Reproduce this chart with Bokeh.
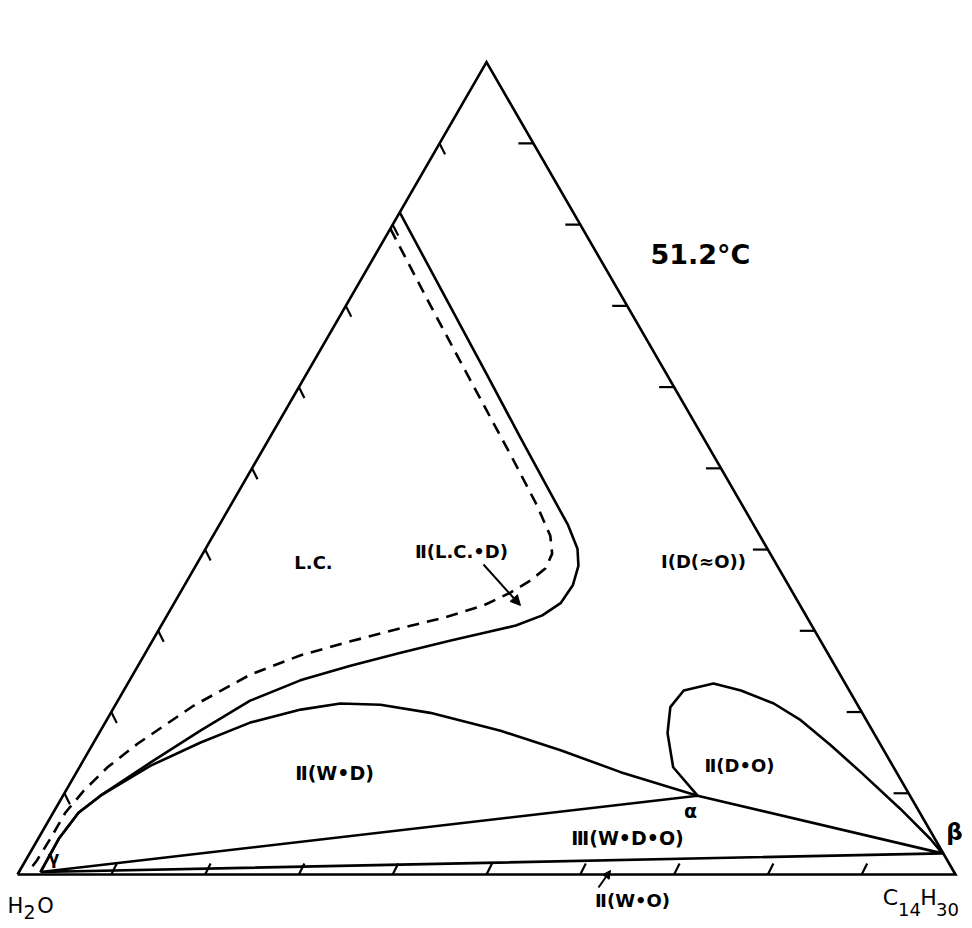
import math
from bokeh.plotting import figure
from bokeh.models import Range1d, Arrow, NormalHead, ColumnDataSource
from bokeh.core.properties import value
from bokeh.embed import file_html
from bokeh.resources import INLINE

# ---- data: compositions in wt% (surfactant S, oil O; water = 100 - S - O) ----
# outer solid boundary of the liquid-crystal two-phase region
lc_solid_S = [81.5, 61.2, 53.8, 47.0, 43.0, 40.1, 38.0, 35.6, 33.4, 31.9, 30.65, 29.8, 28.8, 27.3, 25.7, 23.9, 21.4, 17.7, 13.8, 9.7, 7.6, 4.4, 0.3]
lc_solid_O = [0.0, 19.6, 26.7, 33.3, 37.2, 39.65, 40.8, 41.4, 41.2, 40.0, 37.8, 35.0, 31.8, 27.2, 22.65, 18.2, 14.1, 10.65, 7.3, 4.0, 2.7, 2.2, 2.3]
# dashed boundary (L.C. single phase)
lc_dash_S = [79.5, 70.05, 60.8, 51.6, 45.4, 41.7, 39.5, 37.7, 36.2, 34.7, 33.1, 31.6, 30.3, 28.7, 27.0, 24.6, 20.8, 16.1, 13.2, 10.3, 7.6, 4.4, 1.7, 0.25]
lc_dash_O = [0.0, 9.0, 17.9, 26.8, 32.7, 35.95, 37.25, 37.45, 36.6, 35.2, 33.1, 29.6, 25.65, 21.15, 16.7, 12.5, 8.4, 4.75, 3.0, 1.9, 1.3, 1.3, 1.2, 0.95]
# two-phase W+D dome from gamma to alpha
wd_S = [0.3, 4.4, 7.6, 9.7, 13.4, 16.25, 18.7, 20.3, 21.05, 20.9, 19.9, 17.7, 15.3, 12.6, 9.7]
wd_O = [2.3, 2.2, 2.7, 4.0, 7.5, 11.4, 15.45, 20.05, 23.9, 28.25, 34.05, 42.65, 50.25, 58.0, 67.65]
# two-phase D+O lobe from alpha to beta
do_S = [9.7, 13.2, 17.4, 20.6, 22.65, 23.5, 22.65, 21.05, 19.0, 15.9, 12.6, 8.1, 4.4, 2.6]
do_O = [67.65, 63.3, 60.6, 59.3, 59.7, 62.45, 65.8, 70.1, 74.0, 78.75, 83.6, 90.05, 95.1, 97.3]
# three-phase triangle vertices gamma, alpha, beta
tri3_S = [0.3, 9.7, 2.6, 0.3]
tri3_O = [2.3, 67.65, 97.3, 2.3]
# axis ticks (wt%)
ticks = [10, 20, 30, 40, 50, 60, 70, 80, 90]

H = math.sqrt(3) / 2


def tern(S, O):
    xs = [(o + s / 2) / 100 for s, o in zip(S, O)]
    ys = [s / 100 * H for s in S]
    return xs, ys


p = figure(width=970, height=926,
           x_range=Range1d(-0.018124, 1.015991), y_range=Range1d(-0.055437, 0.931770),
           output_backend="svg", toolbar_location=None, min_border=0,
           x_axis_location=None, y_axis_location=None)
p.grid.visible = False
p.outline_line_color = None
p.background_fill_color = "white"
p.border_fill_color = "white"

LW = 2.6
# triangle frame
p.line([0, 1, 0.5, 0], [0, 0, H, 0], line_color="black", line_width=LW, line_join="miter")

# ticks
L = 0.013
for t in ticks:
    f = t / 100
    p.line([f / 2, f / 2 + L * 0.45], [f * H, f * H - L * 0.9], line_color="black", line_width=2.2)
    p.line([f, f + L * 0.45], [0, L * 0.9], line_color="black", line_width=2.2)
    p.line([1 - f / 2, 1 - f / 2 - 0.016], [f * H, f * H], line_color="black", line_width=2.2)

x, y = tern(lc_solid_S, lc_solid_O)
p.line(x, y, line_color="black", line_width=LW, line_join="round")
x, y = tern(lc_dash_S, lc_dash_O)
p.line(x, y, line_color="black", line_width=LW, line_dash="12 8")
x, y = tern(wd_S, wd_O)
p.line(x, y, line_color="black", line_width=LW, line_join="round")
x, y = tern(do_S, do_O)
p.line(x, y, line_color="black", line_width=LW, line_join="round")
x, y = tern(tri3_S, tri3_O)
p.line(x, y, line_color="black", line_width=LW, line_join="round")

# arrows
p.add_layout(Arrow(end=NormalHead(size=10, fill_color="black", line_color="black"),
                   x_start=0.4968, y_start=0.3305, x_end=0.5362, y_end=0.2868,
                   line_color="black", line_width=2))
p.add_layout(Arrow(end=NormalHead(size=8, fill_color="black", line_color="black"),
                   x_start=0.6194, y_start=-0.0139, x_end=0.6322, y_end=0.0043,
                   line_color="black", line_width=2))

labels = ColumnDataSource(dict(
    x=[0.728, 0.3156, 0.4733, 0.7313, 0.338, 0.7697, 0.6503, 0.6557, 0.7175, 0.9989, 0.0384],
    y=[0.661, 0.3326, 0.3443, 0.3337, 0.1087, 0.1162, 0.0384, -0.0277, 0.0682, 0.0458, 0.0171],
    text=["51.2°C", "L.C.", "Ⅱ(L.C.•D)", "Ⅰ(D(≈O))", "Ⅱ(W•D)", "Ⅱ(D•O)", "Ⅲ(W•D•O)", "Ⅱ(W•O)",
          "α", "β", "γ"],
    size=["27px", "18px", "18px", "18px", "19px", "18px", "19px", "18px", "19px", "23px", "17px"],
))
p.text(x="x", y="y", text="text", text_font_size="size", source=labels,
       text_font=value("DejaVu Sans"), text_font_style="bold", text_align="center",
       text_baseline="middle", text_color="black")

# corner labels with lowered digits
corner = ColumnDataSource(dict(
    x=[-0.00213, 0.01279, 0.02985, 0.9307, 0.9510, 0.9712, 0.9915],
    y=[-0.03305, -0.04051, -0.03305, -0.02452, -0.03738, -0.02452, -0.03738],
    text=["H", "2", "O", "C", "14", "H", "30"],
    size=["21px", "19px", "21px", "22px", "18px", "22px", "18px"],
))
p.text(x="x", y="y", text="text", text_font_size="size", source=corner,
       text_font=value("DejaVu Sans"), text_align="center", text_baseline="middle",
       text_color="black")

open("out.html", "w").write(file_html(p, INLINE))
